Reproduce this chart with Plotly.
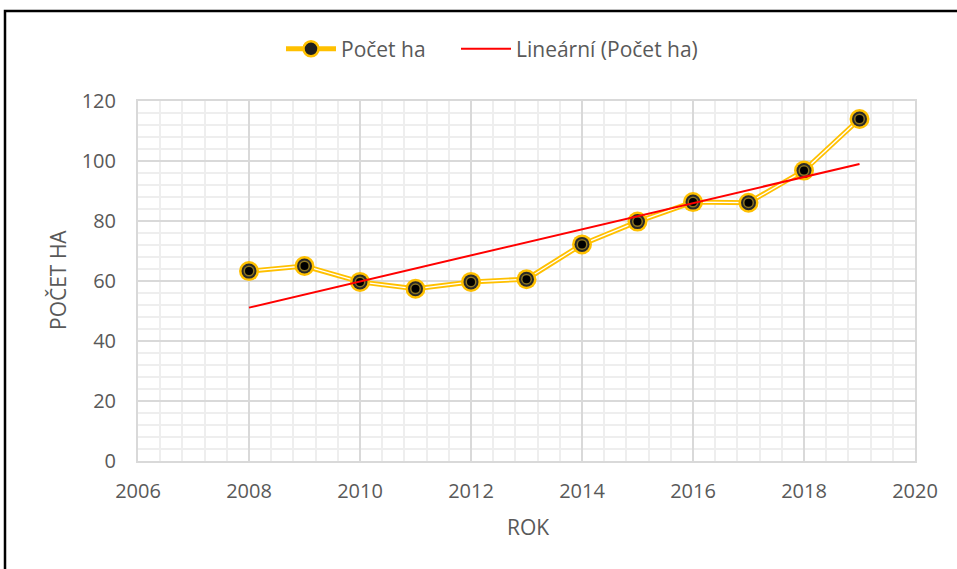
import numpy as np
import plotly.graph_objects as go

years = [2008, 2009, 2010, 2011, 2012, 2013, 2014, 2015, 2016, 2017, 2018, 2019]
pocet_ha = [63.3, 65.0, 59.7, 57.4, 59.7, 60.6, 72.2, 79.8, 86.3, 86.1, 96.8, 114.0]
x_ticks = [2006, 2008, 2010, 2012, 2014, 2016, 2018, 2020]
y_ticks = [0, 20, 40, 60, 80, 100, 120]

GOLD = "#FFC000"
TXT = "#595959"
FONT = "Open Sans"

# linear trend (least squares) from the data
coef = np.polyfit(years, pocet_ha, 1)
trend = np.polyval(coef, [years[0], years[-1]])

fig = go.Figure()
fig.add_trace(go.Scatter(
    x=years, y=pocet_ha, name="Počet ha", mode="lines+markers", legend="legend",
    line=dict(color=GOLD, width=5),
    marker=dict(size=15, color="#1f1f1f", line=dict(color=GOLD, width=2.5)),
))
fig.add_trace(go.Scatter(
    x=years, y=pocet_ha, mode="lines", showlegend=False, hoverinfo="skip",
    line=dict(color="white", width=1.3),
))
fig.add_trace(go.Scatter(
    x=years, y=pocet_ha, mode="markers", showlegend=False, hoverinfo="skip",
    marker=dict(size=20, color=GOLD, line=dict(width=0)),
))
fig.add_trace(go.Scatter(
    x=years, y=pocet_ha, mode="markers", showlegend=False, hoverinfo="skip",
    marker=dict(size=15, color="#2a2a2a", line=dict(width=0)),
))
fig.add_trace(go.Scatter(
    x=years, y=pocet_ha, mode="markers", showlegend=False, hoverinfo="skip",
    marker=dict(size=11, color="#8c7420", line=dict(width=0)),
))
fig.add_trace(go.Scatter(
    x=years, y=pocet_ha, mode="markers", showlegend=False, hoverinfo="skip",
    marker=dict(size=8, color="black", line=dict(width=0)),
))
fig.add_trace(go.Scatter(
    x=[years[0], years[-1]], y=trend, name="Lineární (Počet ha)", mode="lines",
    legend="legend2", line=dict(color="#FF0000", width=2),
))

legend_common = dict(orientation="h", y=1.144, yanchor="middle", xanchor="left",
                     font=dict(size=21, color=TXT), itemwidth=50,
                     bgcolor="rgba(0,0,0,0)")

fig.update_layout(
    width=957, height=569,
    margin=dict(l=138, r=42, t=101, b=108),
    paper_bgcolor="white", plot_bgcolor="white",
    font=dict(family=FONT, size=20, color=TXT),
    legend=dict(x=(281 - 138) / 777, **legend_common),
    legend2=dict(x=(456 - 138) / 777, **legend_common),
    xaxis=dict(
        range=[2006, 2020], tickmode="array", tickvals=x_ticks,
        ticktext=[str(v) for v in x_ticks],
        showgrid=True, gridcolor="#d9d9d9", gridwidth=2,
        minor=dict(dtick=0.4, showgrid=True, gridcolor="#eeeeee", gridwidth=2),
        showline=True, linecolor="#d9d9d9", linewidth=2, mirror=True,
        zeroline=False, ticks="", ticklabelstandoff=11,
        tickfont=dict(size=20, color=TXT),
    ),
    yaxis=dict(
        range=[0, 120], tickmode="array", tickvals=y_ticks,
        showgrid=True, gridcolor="#d9d9d9", gridwidth=2,
        minor=dict(dtick=4, showgrid=True, gridcolor="#eeeeee", gridwidth=2),
        showline=True, linecolor="#d9d9d9", linewidth=2, mirror=True,
        zeroline=False, ticks="", ticklabelstandoff=16,
        tickfont=dict(size=20, color=TXT),
    ),
    annotations=[
        dict(text="POČET HA", xref="paper", yref="paper", x=(58 - 138) / 777, y=(461 - 280) / 360,
             textangle=-90, showarrow=False, font=dict(size=21, color=TXT),
             xanchor="center", yanchor="middle"),
        dict(text="ROK", xref="paper", yref="paper", x=(528 - 138) / 777, y=(461 - 527) / 360,
             showarrow=False, font=dict(size=21, color=TXT),
             xanchor="center", yanchor="middle"),
    ],
    shapes=[
        dict(type="path", xref="paper", yref="paper",
             path=f"M {(5-138)/777},{(461-590)/360} L {(5-138)/777},{(461-11)/360} L {(980-138)/777},{(461-11)/360}",
             line=dict(color="black", width=2.5)),
    ],
)

fig.write_html("out.html", config={"displayModeBar": False},
               post_script="document.body.style.margin='0';")
